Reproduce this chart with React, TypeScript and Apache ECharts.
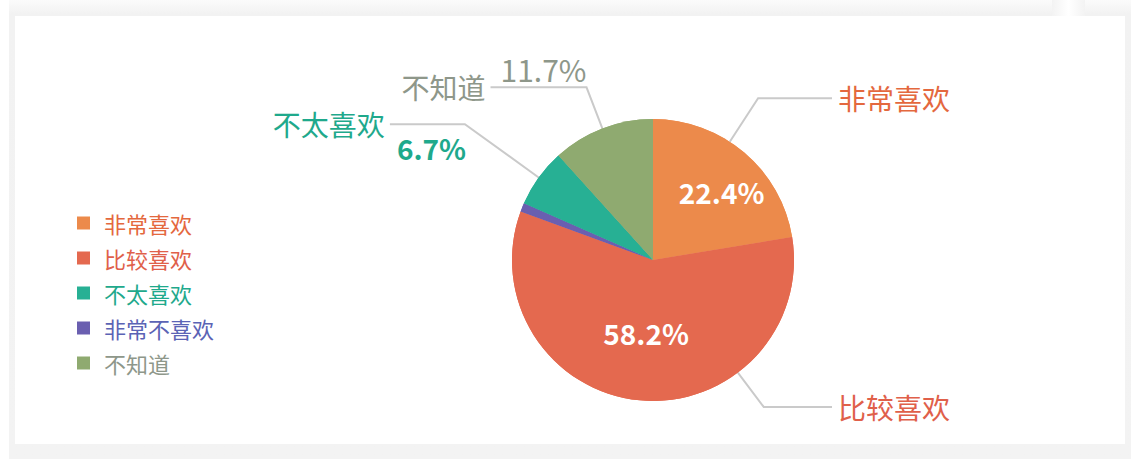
import React, { useEffect, useRef } from "react";
import * as echarts from "echarts";

// ---- data ----
const categories = ["非常喜欢", "比较喜欢", "非常不喜欢", "不太喜欢", "不知道"]; // slice order (clockwise from top)
const values = [22.4, 58.2, 1.0, 6.7, 11.7];
const legendOrder = ["非常喜欢", "比较喜欢", "不太喜欢", "非常不喜欢", "不知道"];
const sliceColors = ["#EC8A4B", "#E4694F", "#6A5FB0", "#27B094", "#8FAA70"];
const labelColors = ["#E4683E", "#E0604A", "#5B63B5", "#1FA98C", "#8E978A"];

// ---- layout ----
const W = 1110;
const H = 428;
const CX = 638;
const CY = 244;
const R = 141;
const FONT = "'Noto Sans CJK SC', 'Noto Sans', sans-serif";
const LINE_COLOR = "#cacaca";
// right-side name labels: anchor angle on the pie and elbow distance
const rightAnchors: Record<number, { angle: number; dist: number }> = {
  0: { angle: 57, dist: 193 },
  1: { angle: -53, dist: 184 },
};
const RIGHT_END_DX = 179;
// left-side label line lengths
const leftLines: Record<number, { length: number; length2: number }> = {
  3: { length: 91, length2: 75 },
  4: { length: 44, length2: 96 },
};
// percent labels shown beside the left label lines
const pctOffsets: Record<number, { dx: number; dy: number; bold: boolean; size: number }> = {
  3: { dx: 7, dy: 24, bold: true, size: 28 },
  4: { dx: 10, dy: -18, bold: false, size: 30 },
};

export default function App() {
  const ref = useRef<HTMLDivElement>(null);

  useEffect(() => {
    if (!ref.current) return;
    const chart = echarts.init(ref.current, undefined, { renderer: "svg" });

    const nameData = categories.map((name, i) => {
      const hidden = i === 2;
      const ll = leftLines[i];
      return {
        name,
        value: values[i],
        itemStyle: { color: sliceColors[i] },
        label: { show: !hidden, color: labelColors[i] },
        labelLine: hidden
          ? { show: false }
          : ll
          ? { show: true, length: ll.length, length2: ll.length2 }
          : { show: true, length: 40, length2: 40 },
      };
    });

    const pctData = categories.map((name, i) => {
      const ll = leftLines[i];
      const base: any = {
        name,
        value: values[i],
        itemStyle: { color: sliceColors[i] },
      };
      if (i === 2) {
        base.label = { show: false };
        base.labelLine = { show: false };
      } else if (ll) {
        base.label = {
          show: true,
          position: "outside",
          color: labelColors[i],
          fontSize: pctOffsets[i].size,
          fontWeight: pctOffsets[i].bold ? "bold" : "normal",
        };
        base.labelLine = { show: false, length: ll.length, length2: ll.length2 };
      } else {
        base.label = {
          show: true,
          position: "inside",
          color: "#ffffff",
          fontWeight: "bold",
        };
        base.labelLine = { show: false };
      }
      return base;
    });

    const option: any = {
      animation: false,
      legend: {
        orient: "vertical",
        left: 57,
        top: 191,
        icon: "rect",
        itemWidth: 13,
        itemHeight: 13,
        itemGap: 13,
        textStyle: {
          fontSize: 22,
          lineHeight: 22,
          fontFamily: FONT,
          padding: [0, 0, 0, 9],
        },
        data: legendOrder.map((n) => ({
          name: n,
          textStyle: { color: labelColors[categories.indexOf(n)] },
        })),
      },
      series: [
        {
          name: "names",
          type: "pie",
          center: [CX, CY],
          radius: R,
          startAngle: 90,
          clockwise: true,
          avoidLabelOverlap: false,
          percentPrecision: 1,
          itemStyle: { borderWidth: 0 },
          emphasis: { disabled: true },
          label: {
            show: true,
            position: "outside",
            formatter: "{b}",
            fontSize: 28,
            fontFamily: FONT,
          },
          labelLine: {
            show: true,
            lineStyle: { color: LINE_COLOR, width: 2 },
          },
          labelLayout: (p: any) => {
            const a = rightAnchors[p.dataIndex];
            if (!a) return {};
            const rad = (a.angle * Math.PI) / 180;
            const p0 = [CX + R * Math.cos(rad), CY - R * Math.sin(rad)];
            const p1 = [CX + a.dist * Math.cos(rad), CY - a.dist * Math.sin(rad)];
            const p2 = [CX + RIGHT_END_DX, p1[1]];
            return {
              x: p2[0] + 6,
              y: p2[1],
              align: "left",
              verticalAlign: "middle",
              labelLinePoints: [p0, p1, p2],
            };
          },
          data: nameData,
        },
        {
          name: "percent",
          type: "pie",
          center: [CX, CY],
          radius: R,
          startAngle: 90,
          clockwise: true,
          avoidLabelOverlap: false,
          percentPrecision: 1,
          silent: true,
          itemStyle: { borderWidth: 0 },
          emphasis: { disabled: true },
          label: {
            show: true,
            formatter: "{d}%",
            fontSize: 28,
            fontFamily: FONT,
          },
          labelLayout: (p: any) => {
            const i = p.dataIndex;
            if (i === 0) return { dx: 21, dy: -12 };
            const off = pctOffsets[i];
            if (!off) return {};
            const r = p.labelRect;
            const x3 = r.x + r.width + 5;
            const ly = r.y + r.height / 2;
            return {
              x: x3 + off.dx,
              y: ly + off.dy,
              align: "left",
              verticalAlign: "middle",
            };
          },
          data: pctData,
        },
      ],
    };

    chart.setOption(option);
    return () => chart.dispose();
  }, []);

  return (
    <div
      style={{
        position: "absolute",
        left: 0,
        top: 0,
        width: 1134,
        height: 459,
        background: "#ffffff",
        overflow: "hidden",
      }}
    >
      <div
        style={{
          position: "absolute",
          left: 9,
          top: 0,
          width: 1122,
          height: 459,
          background: "linear-gradient(#fbfbfb 0px, #f2f2f2 14px, #f3f3f3 100%)",
        }}
      />
      <div
        style={{
          position: "absolute",
          left: 1052,
          top: 0,
          width: 33,
          height: 16,
          background: "linear-gradient(90deg, #f3f3f3, #ffffff 50%, #f3f3f3)",
        }}
      />
      <div
        style={{
          position: "absolute",
          left: 15,
          top: 16,
          width: W,
          height: H,
          background: "#ffffff",
        }}
      >
        <div ref={ref} style={{ width: W, height: H }} />
      </div>
    </div>
  );
}
